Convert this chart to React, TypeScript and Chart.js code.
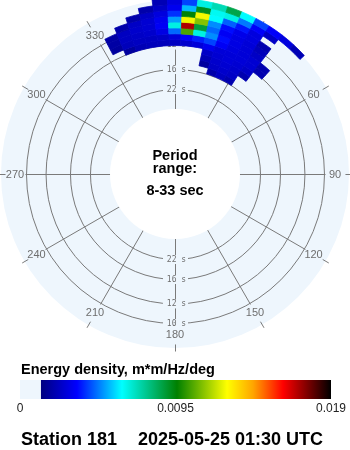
import React, { useEffect, useRef } from "react";
import { Chart, registerables } from "chart.js";

Chart.register(...registerables);

// ---------------- data ----------------
// direction bin centres (degrees, compass, "from")
const DIRECTIONS_DEG = [335, 340, 345, 350, 355, 0, 5, 10, 15, 20, 25, 30, 35, 40, 45];
// frequency band centres (Hz)
const FREQUENCIES_HZ = [0.065, 0.07, 0.075, 0.08, 0.085, 0.09, 0.095, 0.1, 0.105, 0.11, 0.115, 0.12];
const BAND_WIDTH_HZ = 0.005;
const DIR_BIN_DEG = 5;

// energy density (m*m/Hz/deg), one array per frequency band, columns follow DIRECTIONS_DEG
const E_065 = [0, 0, 0, 0, 0, 0, 0, 0, 0, 0.002, 0.0024, 0.0021, 0, 0, 0];
const E_070 = [0, 0, 0, 0, 0, 0, 0, 0, 0.0018, 0.0025, 0.0026, 0.0025, 0, 0, 0];
const E_075 = [0, 0, 0, 0, 0, 0, 0, 0, 0.0022, 0.0026, 0.0027, 0.0026, 0.0021, 0, 0];
const E_080 = [0, 0, 0, 0, 0, 0, 0, 0, 0.0025, 0.0027, 0.0028, 0.0027, 0.0025, 0, 0];
const E_085 = [0, 0.0018, 0.0022, 0.0023, 0.0023, 0.0024, 0.0026, 0.0028, 0.0032, 0.0028, 0.0028, 0.0028, 0.0027, 0.0021, 0];
const E_090 = [0.0018, 0.0023, 0.0024, 0.0024, 0.0025, 0.0028, 0.0034, 0.0038, 0.0042, 0.0033, 0.0029, 0.0028, 0.0027, 0.0021, 0];
const E_095 = [0.0019, 0.0024, 0.0025, 0.0026, 0.003, 0.0046, 0.0105, 0.0066, 0.005, 0.0036, 0.003, 0.0028, 0.0025, 0, 0];
const E_100 = [0.0019, 0.0024, 0.0026, 0.0027, 0.0033, 0.0066, 0.017, 0.0088, 0.0046, 0.0033, 0.003, 0.0028, 0.0023, 0, 0];
const E_105 = [0, 0.002, 0.0025, 0.0027, 0.0032, 0.0052, 0.0125, 0.0112, 0.005, 0.0036, 0.0031, 0.0029, 0.0021, 0, 0];
const E_110 = [0, 0, 0.002, 0.0025, 0.0029, 0.004, 0.0095, 0.0125, 0.0062, 0.0045, 0.0037, 0.0029, 0, 0, 0];
const E_115 = [0, 0, 0, 0.002, 0.0025, 0.0032, 0.0055, 0.0092, 0.0064, 0.0066, 0.0048, 0.0034, 0.0025, 0, 0];
const E_120 = [0, 0, 0, 0, 0.0022, 0.0029, 0.0042, 0.0066, 0.0072, 0.0086, 0.0062, 0.0042, 0.0034, 0.0029, 0.0022];
const ENERGY_ROWS = [E_065, E_070, E_075, E_080, E_085, E_090, E_095, E_100, E_105, E_110, E_115, E_120];

const PERIOD_RINGS_S = [22, 16, 12, 10];
const DIRECTION_TICKS = [0, 30, 60, 90, 120, 150, 180, 210, 240, 270, 300, 330];
const COLORBAR_TICKS = [0, 0.0095, 0.019];
const COLORBAR_MAX = 0.019;
const COLOR_LEVELS = [0.00128, 0.00348, 0.00623, 0.00959, 0.01265, 0.01424, 0.01607, 0.01753, 0.019];

const CENTER_TEXT = ["Period", "range:", "8-33 sec"];
const COLORBAR_TITLE = "Energy density, m*m/Hz/deg";
const STATION = "Station 181";
const TIMESTAMP = "2025-05-25 01:30 UTC";

// ---------------- styles / geometry ----------------
const COLOR_STOPS = ["#000080", "#0000ff", "#00ffff", "#008000", "#ffff00", "#ffa500", "#ff0000", "#800000", "#000000"];
const DISK_COLOR = "#eef6fd";
const GRID_COLOR = "#7a7a7a";
const LABEL_COLOR = "#6e6e6e";
const SANS = '"Liberation Sans", Arial, sans-serif';

const F_OFFSET = 0.02702; // radius grows as (f + F_OFFSET)
const R_MAX = 0.14834;
const R_HOLE = 0.05541;
const R_SPOKE = 0.1279;
const R_LABEL = 0.1364;
const R_TICK_IN = 0.1449;
const R_TICK_OUT = 0.1509;

function hexToRgb(h: string) {
  return [parseInt(h.slice(1, 3), 16), parseInt(h.slice(3, 5), 16), parseInt(h.slice(5, 7), 16)];
}
function colorFor(v: number): string | null {
  if (v < COLOR_LEVELS[0]) return null;
  for (let i = 0; i < COLOR_LEVELS.length - 1; i++) {
    const a = COLOR_LEVELS[i], b = COLOR_LEVELS[i + 1];
    if (v <= b) {
      const t = (v - a) / (b - a);
      const c1 = hexToRgb(COLOR_STOPS[i]), c2 = hexToRgb(COLOR_STOPS[i + 1]);
      const c = c1.map((x, k) => Math.round(x + (c2[k] - x) * t));
      return `rgb(${c[0]},${c[1]},${c[2]})`;
    }
  }
  return COLOR_STOPS[COLOR_STOPS.length - 1];
}

const polarPlugin = {
  id: "polarSpectrum",
  afterDraw(chart: any) {
    const ctx: CanvasRenderingContext2D = chart.ctx;
    const xs = chart.scales.x, ys = chart.scales.y;
    const cx = xs.getPixelForValue(0);
    const cy = ys.getPixelForValue(0);
    const rad = (rho: number) => xs.getPixelForValue(rho) - cx;
    const pt = (rho: number, deg: number) => {
      const a = (deg * Math.PI) / 180;
      return [xs.getPixelForValue(rho * Math.sin(a)), ys.getPixelForValue(rho * Math.cos(a))];
    };
    const ang = (deg: number) => ((deg - 90) * Math.PI) / 180;

    ctx.save();
    // disk
    ctx.fillStyle = DISK_COLOR;
    ctx.beginPath();
    ctx.arc(cx, cy, rad(R_MAX), 0, Math.PI * 2);
    ctx.fill();

    // grid
    ctx.save();
    ctx.translate(0.5, 0.5);
    ctx.strokeStyle = GRID_COLOR;
    ctx.lineWidth = 1;
    PERIOD_RINGS_S.forEach((T) => {
      ctx.beginPath();
      ctx.arc(cx, cy, rad(1 / T + F_OFFSET), 0, Math.PI * 2);
      ctx.stroke();
    });
    DIRECTION_TICKS.forEach((d) => {
      const [x0, y0] = pt(0, d);
      const [x1, y1] = pt(R_SPOKE, d);
      ctx.beginPath();
      ctx.moveTo(x0, y0);
      ctx.lineTo(x1, y1);
      ctx.stroke();
      const [x2, y2] = pt(R_TICK_IN, d);
      const [x3, y3] = pt(R_TICK_OUT, d);
      ctx.beginPath();
      ctx.moveTo(x2, y2);
      ctx.lineTo(x3, y3);
      ctx.stroke();
    });
    ctx.restore();

    // direction labels
    ctx.fillStyle = LABEL_COLOR;
    ctx.font = `11px ${SANS}`;
    ctx.textAlign = "center";
    ctx.textBaseline = "middle";
    DIRECTION_TICKS.forEach((d) => {
      const [x, y] = pt(R_LABEL, d);
      ctx.fillText(String(d), x, y + 0.5);
    });

    // ring labels (top and bottom)
    ctx.font = '8px "DejaVu Sans Mono", monospace';
    PERIOD_RINGS_S.forEach((T) => {
      [0, 180].forEach((d) => {
        const [x, y] = pt(1 / T + F_OFFSET, d);
        ctx.fillStyle = DISK_COLOR;
        ctx.fillRect(x - 12, y - 4, 25, 9);
        ctx.fillStyle = LABEL_COLOR;
        ctx.fillText(`${T} s`, x + 1.5, y + 0.5);
      });
    });

    // spectrum cells
    ENERGY_ROWS.forEach((row, i) => {
      const f = FREQUENCIES_HZ[i];
      const r1 = rad(f - BAND_WIDTH_HZ / 2 + F_OFFSET);
      const r2 = rad(f + BAND_WIDTH_HZ / 2 + F_OFFSET);
      row.forEach((v, j) => {
        const col = colorFor(v);
        if (!col) return;
        const d = DIRECTIONS_DEG[j];
        const a1 = ang(d - DIR_BIN_DEG / 2), a2 = ang(d + DIR_BIN_DEG / 2);
        ctx.beginPath();
        ctx.arc(cx, cy, r2, a1, a2);
        ctx.arc(cx, cy, r1, a2, a1, true);
        ctx.closePath();
        ctx.fillStyle = col;
        ctx.strokeStyle = col;
        ctx.lineWidth = 0.8;
        ctx.fill();
        ctx.stroke();
      });
    });

    // centre hole
    ctx.fillStyle = "#ffffff";
    ctx.beginPath();
    ctx.arc(cx, cy, rad(R_HOLE), 0, Math.PI * 2);
    ctx.fill();
    ctx.fillStyle = "#000000";
    ctx.font = `bold 14.5px ${SANS}`;
    ctx.textAlign = "center";
    ctx.textBaseline = "alphabetic";
    ctx.fillText(CENTER_TEXT[0], cx, 160);
    ctx.fillText(CENTER_TEXT[1], cx, 173);
    ctx.fillText(CENTER_TEXT[2], cx, 195);

    // colour bar
    const barL = 20, barR = 331, barT = 380, barH = 19;
    const xv = (v: number) => barL + (v / COLORBAR_MAX) * (barR - barL);
    const gL = xv(COLOR_LEVELS[0]);
    ctx.fillStyle = DISK_COLOR;
    ctx.fillRect(barL, barT, gL - barL, barH);
    const grad = ctx.createLinearGradient(gL, 0, barR, 0);
    COLOR_LEVELS.forEach((v, k) => {
      grad.addColorStop((xv(v) - gL) / (barR - gL), COLOR_STOPS[k]);
    });
    ctx.fillStyle = grad;
    ctx.fillRect(gL, barT, barR - gL, barH);

    ctx.fillStyle = "#000000";
    ctx.font = `bold 14.5px ${SANS}`;
    ctx.textAlign = "left";
    ctx.fillText(COLORBAR_TITLE, 21, 374);

    ctx.fillStyle = "#222222";
    ctx.font = `12px ${SANS}`;
    ctx.textAlign = "center";
    COLORBAR_TICKS.forEach((v) => {
      ctx.fillText(String(v), xv(v), 412);
    });

    ctx.fillStyle = "#000000";
    ctx.font = `bold 18px ${SANS}`;
    ctx.textAlign = "left";
    ctx.fillText(STATION, 21, 445);
    ctx.fillText(TIMESTAMP, 138, 445);
    ctx.restore();
  },
};

export default function App() {
  const ref = useRef<HTMLCanvasElement | null>(null);
  useEffect(() => {
    if (!ref.current) return;
    const chart = new Chart(ref.current, {
      type: "scatter",
      data: { datasets: [] },
      options: {
        responsive: false,
        animation: false,
        devicePixelRatio: 1,
        events: [],
        layout: { padding: { left: 1, right: 1, top: 0, bottom: 102 } },
        scales: {
          x: { type: "linear", min: -R_MAX, max: R_MAX, display: false },
          y: { type: "linear", min: -R_MAX, max: R_MAX, display: false },
        },
        plugins: { legend: { display: false }, tooltip: { enabled: false }, title: { display: false } },
      },
      plugins: [polarPlugin],
    } as any);
    return () => chart.destroy();
  }, []);
  return (
    <div style={{ position: "absolute", left: 0, top: 0, width: 350, height: 450, background: "#fff" }}>
      <canvas ref={ref} width={350} height={450} style={{ display: "block" }} />
    </div>
  );
}
